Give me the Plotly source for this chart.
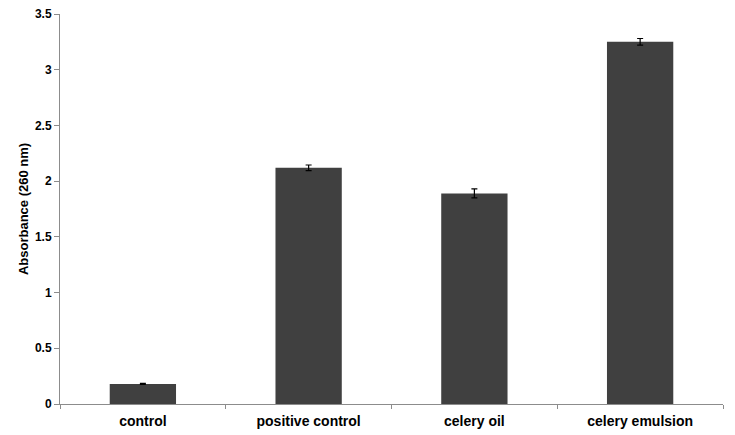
import plotly.graph_objects as go

categories = ["control", "positive control", "celery oil", "celery emulsion"]
values = [0.18, 2.12, 1.89, 3.25]
errors = [0.005, 0.025, 0.04, 0.03]
y_ticks = [0, 0.5, 1, 1.5, 2, 2.5, 3, 3.5]
y_ticktext = ["0", "0.5", "1", "1.5", "2", "2.5", "3", "3.5"]

fig = go.Figure(go.Bar(
    x=categories, y=values, width=0.4,
    marker=dict(color="#404040", line=dict(width=0)),
    error_y=dict(type="data", array=errors, color="#000000", thickness=1.2, width=3),
))

font = "Liberation Sans, Arial, sans-serif"
fig.update_layout(
    width=727, height=427,
    margin=dict(l=52, r=12, t=6, b=31),
    plot_bgcolor="white", paper_bgcolor="white",
    showlegend=False,
    font=dict(family=font, color="#000000"),
    bargap=0.6,
)
fig.update_xaxes(
    automargin=False,
    showline=True, linecolor="#8c8c8c", linewidth=1,
    ticks="outside", tickson="boundaries", ticklen=4, tickcolor="#8c8c8c",
    tickfont=dict(family=font, size=14, color="#000000", weight="bold"),
    ticklabelstandoff=4,
    showgrid=False, range=[-0.5, 3.5],
)
fig.update_yaxes(
    automargin=False,
    range=[0, 3.5], tickvals=y_ticks, ticktext=y_ticktext,
    showline=True, linecolor="#8c8c8c", linewidth=1,
    ticks="outside", ticklen=5, tickcolor="#8c8c8c",
    tickfont=dict(family=font, size=12, color="#000000", weight="bold"),
    ticklabeloverflow="allow",
    showgrid=False, zeroline=False,
    title=dict(text="Absorbance (260 nm)", font=dict(family=font, size=13, color="#000000", weight="bold"), standoff=3),
)

fig.write_html("out.html")
